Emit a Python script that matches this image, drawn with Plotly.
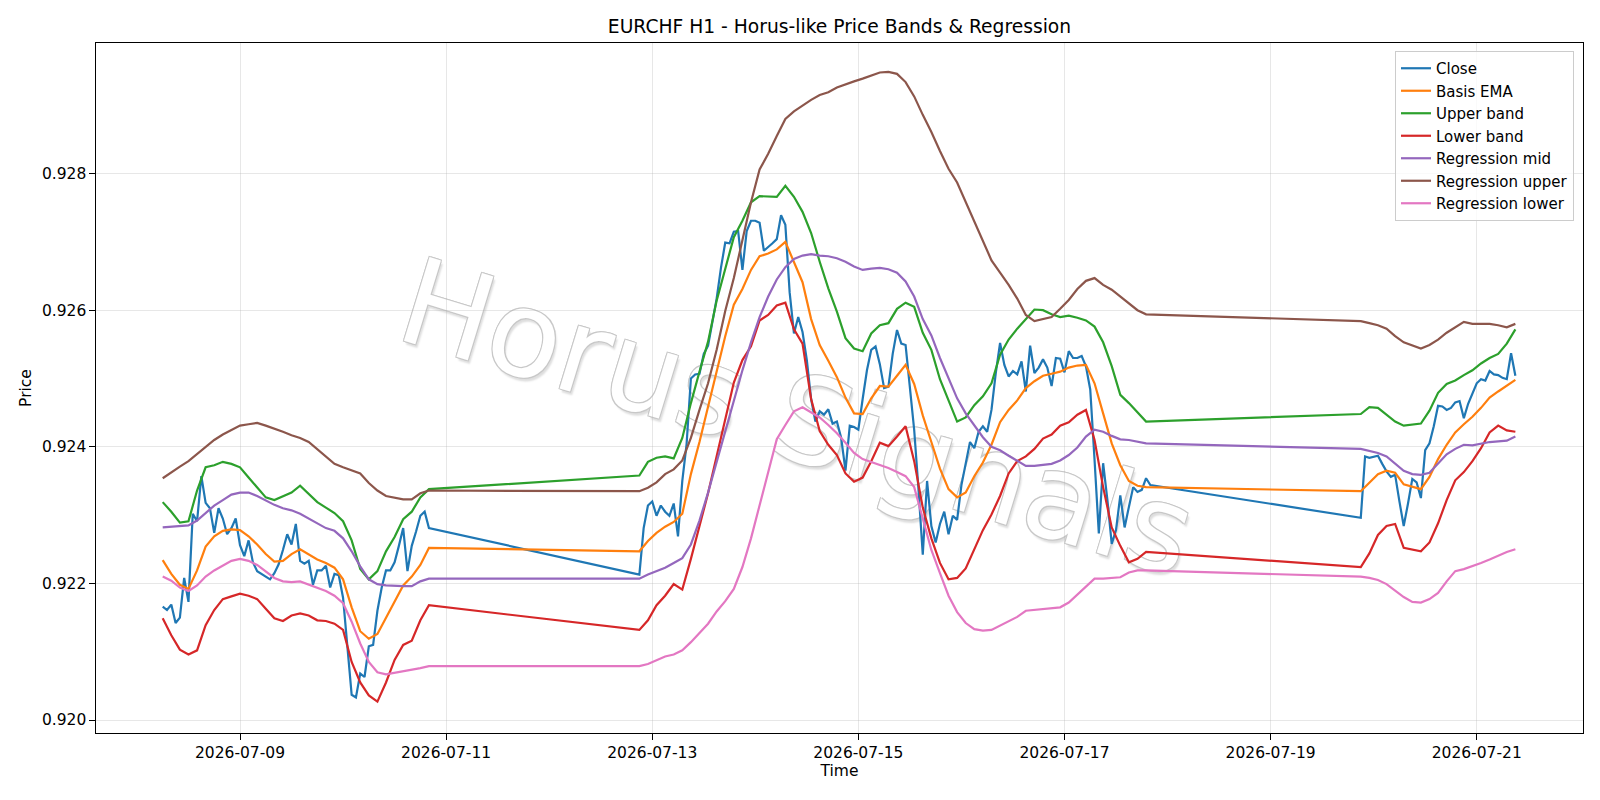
import pandas as pd
import plotly.graph_objects as go

# ---------------- data ----------------
SEG_STARTS = ["2026-07-08 06:00", "2026-07-12 21:00", "2026-07-19 21:00"]
CLOSE_COUNTS = [63, 120, 37]   # hourly points per trading block
BAND_COUNTS = [32, 60, 19]     # 2-hourly points per trading block

close = [
    0.92166, 0.92161, 0.92169, 0.92142, 0.92150, 0.92208, 0.92173, 0.92302, 0.92291, 0.92357,
    0.92318, 0.92310, 0.92274, 0.92310, 0.92295, 0.92272, 0.92281, 0.92295, 0.92256, 0.92240,
    0.92263, 0.92231, 0.92218, 0.92214, 0.92210, 0.92206, 0.92215, 0.92228, 0.92249, 0.92272,
    0.92257, 0.92287, 0.92233, 0.92229, 0.92233, 0.92198, 0.92219, 0.92219, 0.92226, 0.92194,
    0.92214, 0.92212, 0.92179, 0.92108, 0.92037, 0.92033, 0.92068, 0.92063, 0.92108, 0.92110,
    0.92160, 0.92194, 0.92219, 0.92219, 0.92231, 0.92255, 0.92281, 0.92218, 0.92255, 0.92276,
    0.92299, 0.92305, 0.92281,
    0.92213, 0.92281, 0.92314, 0.92320, 0.92299, 0.92314, 0.92305, 0.92299, 0.92317, 0.92269,
    0.92350, 0.92404, 0.92500, 0.92506, 0.92507, 0.92536, 0.92548, 0.92584, 0.92617, 0.92662,
    0.92699, 0.92698, 0.92715, 0.92716, 0.92659, 0.92716, 0.92731, 0.92731, 0.92728, 0.92687,
    0.92692, 0.92698, 0.92704, 0.92739, 0.92725, 0.92626, 0.92566, 0.92590, 0.92568, 0.92527,
    0.92470, 0.92437, 0.92452, 0.92447, 0.92455, 0.92434, 0.92437, 0.92413, 0.92365, 0.92431,
    0.92429, 0.92425, 0.92470, 0.92512, 0.92542, 0.92547, 0.92521, 0.92486, 0.92488, 0.92536,
    0.92571, 0.92551, 0.92549, 0.92482, 0.92425, 0.92338, 0.92242, 0.92350, 0.92284, 0.92260,
    0.92287, 0.92305, 0.92272, 0.92299, 0.92293, 0.92344, 0.92374, 0.92407, 0.92398, 0.92422,
    0.92430, 0.92422, 0.92454, 0.92508, 0.92552, 0.92520, 0.92503, 0.92511, 0.92506, 0.92525,
    0.92481, 0.92548, 0.92508, 0.92516, 0.92528, 0.92516, 0.92489, 0.92530, 0.92529, 0.92509,
    0.92540, 0.92530, 0.92530, 0.92533, 0.92518, 0.92484, 0.92381, 0.92273, 0.92376, 0.92322,
    0.92258, 0.92278, 0.92329, 0.92282, 0.92312, 0.92341, 0.92334, 0.92337, 0.92354, 0.92344,
    0.92296, 0.92386, 0.92384, 0.92385, 0.92387, 0.92375, 0.92364, 0.92356, 0.92359, 0.92320,
    0.92284, 0.92317, 0.92353, 0.92348, 0.92325, 0.92395, 0.92405, 0.92430, 0.92460, 0.92459,
    0.92454, 0.92457, 0.92465, 0.92467, 0.92442, 0.92463, 0.92477, 0.92493, 0.92499, 0.92497,
    0.92511, 0.92506, 0.92505, 0.92501, 0.92499, 0.92537, 0.92504,
]

basis_ema = [
    0.92234, 0.92214, 0.92198, 0.92192, 0.92219, 0.92254, 0.92269, 0.92277, 0.92279, 0.92278,
    0.92269, 0.92257, 0.92243, 0.92232, 0.92233, 0.92243, 0.92250, 0.92243, 0.92235, 0.92230,
    0.92223, 0.92206, 0.92165, 0.92130, 0.92119, 0.92126, 0.92150, 0.92172, 0.92197, 0.92210,
    0.92227, 0.92252,
    0.92247, 0.92262, 0.92274, 0.92283, 0.92290, 0.92302, 0.92360, 0.92407, 0.92458, 0.92512,
    0.92562, 0.92608, 0.92631, 0.92659, 0.92679, 0.92683, 0.92689, 0.92700, 0.92671, 0.92641,
    0.92587, 0.92549, 0.92526, 0.92502, 0.92472, 0.92449, 0.92448, 0.92471, 0.92489, 0.92488,
    0.92504, 0.92520, 0.92492, 0.92446, 0.92407, 0.92368, 0.92338, 0.92326, 0.92333, 0.92357,
    0.92377, 0.92403, 0.92436, 0.92454, 0.92468, 0.92486, 0.92496, 0.92504, 0.92507, 0.92510,
    0.92516, 0.92519, 0.92520, 0.92493, 0.92449, 0.92405, 0.92373, 0.92350, 0.92343, 0.92341,
    0.92335, 0.92348, 0.92360, 0.92365, 0.92362, 0.92345, 0.92341, 0.92338, 0.92356, 0.92382,
    0.92403, 0.92421, 0.92433, 0.92444, 0.92457, 0.92472, 0.92481, 0.92489, 0.92498,
]

upper_band = [
    0.92319, 0.92305, 0.92289, 0.92291, 0.92336, 0.92370, 0.92373, 0.92378, 0.92375, 0.92370,
    0.92355, 0.92341, 0.92326, 0.92322, 0.92328, 0.92333, 0.92343, 0.92331, 0.92319, 0.92311,
    0.92303, 0.92291, 0.92263, 0.92221, 0.92206, 0.92218, 0.92247, 0.92268, 0.92294, 0.92305,
    0.92326, 0.92338,
    0.92358, 0.92378, 0.92384, 0.92386, 0.92383, 0.92413, 0.92464, 0.92510, 0.92554, 0.92614,
    0.92660, 0.92707, 0.92731, 0.92758, 0.92767, 0.92767, 0.92766, 0.92782, 0.92766, 0.92744,
    0.92713, 0.92671, 0.92632, 0.92598, 0.92559, 0.92544, 0.92540, 0.92566, 0.92578, 0.92581,
    0.92602, 0.92611, 0.92605, 0.92567, 0.92542, 0.92499, 0.92467, 0.92437, 0.92443, 0.92461,
    0.92474, 0.92493, 0.92535, 0.92557, 0.92573, 0.92587, 0.92601, 0.92600, 0.92594, 0.92590,
    0.92592, 0.92589, 0.92585, 0.92576, 0.92553, 0.92518, 0.92476, 0.92464, 0.92450, 0.92437,
    0.92448, 0.92458, 0.92457, 0.92447, 0.92437, 0.92431, 0.92433, 0.92434, 0.92453, 0.92479,
    0.92492, 0.92497, 0.92505, 0.92512, 0.92522, 0.92530, 0.92536, 0.92551, 0.92572,
]

lower_band = [
    0.92149, 0.92124, 0.92103, 0.92096, 0.92102, 0.92139, 0.92161, 0.92177, 0.92181, 0.92185,
    0.92182, 0.92177, 0.92163, 0.92149, 0.92145, 0.92153, 0.92156, 0.92153, 0.92146, 0.92145,
    0.92141, 0.92132, 0.92085, 0.92055, 0.92036, 0.92027, 0.92055, 0.92088, 0.92110, 0.92116,
    0.92146, 0.92168,
    0.92132, 0.92146, 0.92168, 0.92182, 0.92199, 0.92191, 0.92236, 0.92282, 0.92332, 0.92386,
    0.92440, 0.92494, 0.92527, 0.92547, 0.92585, 0.92593, 0.92607, 0.92611, 0.92572, 0.92551,
    0.92470, 0.92423, 0.92403, 0.92388, 0.92361, 0.92349, 0.92355, 0.92379, 0.92406, 0.92401,
    0.92415, 0.92430, 0.92379, 0.92311, 0.92266, 0.92230, 0.92206, 0.92208, 0.92222, 0.92251,
    0.92278, 0.92301, 0.92328, 0.92361, 0.92379, 0.92386, 0.92397, 0.92412, 0.92418, 0.92431,
    0.92436, 0.92447, 0.92454, 0.92410, 0.92341, 0.92282, 0.92255, 0.92231, 0.92236, 0.92246,
    0.92224, 0.92244, 0.92271, 0.92284, 0.92287, 0.92252, 0.92249, 0.92247, 0.92260, 0.92288,
    0.92322, 0.92351, 0.92363, 0.92379, 0.92398, 0.92421, 0.92431, 0.92424, 0.92422,
]

reg_mid = [
    0.92282, 0.92283, 0.92284, 0.92285, 0.92292, 0.92303, 0.92314, 0.92322, 0.92330, 0.92333,
    0.92333, 0.92328, 0.92321, 0.92315, 0.92310, 0.92307, 0.92302, 0.92295, 0.92287, 0.92281,
    0.92277, 0.92266, 0.92247, 0.92225, 0.92206, 0.92199, 0.92197, 0.92196, 0.92196, 0.92196,
    0.92203, 0.92207,
    0.92207, 0.92213, 0.92218, 0.92223, 0.92230, 0.92237, 0.92257, 0.92292, 0.92333, 0.92378,
    0.92421, 0.92468, 0.92512, 0.92553, 0.92590, 0.92620, 0.92645, 0.92663, 0.92675, 0.92680,
    0.92682, 0.92680, 0.92679, 0.92676, 0.92671, 0.92664, 0.92659, 0.92661, 0.92662, 0.92660,
    0.92655, 0.92642, 0.92620, 0.92587, 0.92563, 0.92530, 0.92500, 0.92471, 0.92449, 0.92431,
    0.92414, 0.92400, 0.92395, 0.92387, 0.92380, 0.92372, 0.92372, 0.92373, 0.92375, 0.92380,
    0.92388, 0.92399, 0.92415, 0.92425, 0.92422, 0.92416, 0.92411, 0.92410, 0.92407, 0.92405,
    0.92397, 0.92394, 0.92391, 0.92386, 0.92376, 0.92365, 0.92360, 0.92359, 0.92362, 0.92376,
    0.92389, 0.92397, 0.92403, 0.92402, 0.92405, 0.92407, 0.92408, 0.92409, 0.92415,
]

reg_upper = [
    0.92354, 0.92363, 0.92371, 0.92379, 0.92389, 0.92399, 0.92410, 0.92418, 0.92425, 0.92431,
    0.92433, 0.92435, 0.92431, 0.92427, 0.92422, 0.92417, 0.92413, 0.92407, 0.92396, 0.92385,
    0.92375, 0.92370, 0.92366, 0.92361, 0.92347, 0.92336, 0.92328, 0.92325, 0.92323, 0.92323,
    0.92332, 0.92336,
    0.92335, 0.92340, 0.92348, 0.92360, 0.92367, 0.92380, 0.92413, 0.92454, 0.92493, 0.92542,
    0.92599, 0.92647, 0.92704, 0.92758, 0.92806, 0.92829, 0.92855, 0.92880, 0.92891, 0.92900,
    0.92908, 0.92915, 0.92919, 0.92926, 0.92931, 0.92935, 0.92939, 0.92943, 0.92948, 0.92949,
    0.92946, 0.92934, 0.92913, 0.92886, 0.92861, 0.92833, 0.92807, 0.92787, 0.92758, 0.92731,
    0.92701, 0.92673, 0.92655, 0.92637, 0.92617, 0.92593, 0.92584, 0.92587, 0.92590, 0.92602,
    0.92615, 0.92631, 0.92643, 0.92647, 0.92637, 0.92630, 0.92620, 0.92610, 0.92600, 0.92594,
    0.92584, 0.92581, 0.92578, 0.92573, 0.92562, 0.92553, 0.92548, 0.92544, 0.92549, 0.92557,
    0.92567, 0.92575, 0.92583, 0.92580, 0.92580, 0.92580, 0.92578, 0.92575, 0.92580,
]

reg_lower = [
    0.92210, 0.92204, 0.92194, 0.92189, 0.92197, 0.92210, 0.92219, 0.92226, 0.92233, 0.92236,
    0.92233, 0.92227, 0.92218, 0.92208, 0.92203, 0.92202, 0.92203, 0.92198, 0.92193, 0.92189,
    0.92182, 0.92171, 0.92144, 0.92112, 0.92085, 0.92070, 0.92067, 0.92069, 0.92071, 0.92074,
    0.92076, 0.92079,
    0.92079, 0.92082, 0.92087, 0.92093, 0.92096, 0.92102, 0.92114, 0.92127, 0.92141, 0.92159,
    0.92174, 0.92192, 0.92224, 0.92266, 0.92315, 0.92362, 0.92411, 0.92432, 0.92452, 0.92458,
    0.92451, 0.92443, 0.92432, 0.92420, 0.92406, 0.92391, 0.92382, 0.92378, 0.92373, 0.92369,
    0.92363, 0.92357, 0.92341, 0.92296, 0.92249, 0.92215, 0.92182, 0.92158, 0.92142, 0.92133,
    0.92131, 0.92132, 0.92138, 0.92144, 0.92151, 0.92160, 0.92161, 0.92162, 0.92163, 0.92165,
    0.92172, 0.92184, 0.92196, 0.92207, 0.92207, 0.92208, 0.92209, 0.92216, 0.92219, 0.92219,
    0.92210, 0.92208, 0.92205, 0.92199, 0.92190, 0.92180, 0.92173, 0.92172, 0.92177, 0.92186,
    0.92203, 0.92218, 0.92221, 0.92225, 0.92230, 0.92235, 0.92241, 0.92246, 0.92250,
]

X_TICKS = ["2026-07-09", "2026-07-11", "2026-07-13", "2026-07-15",
           "2026-07-17", "2026-07-19", "2026-07-21"]
Y_TICKS = [0.920, 0.922, 0.924, 0.926, 0.928]


def build_times(counts, step):
    parts = [pd.date_range(s, periods=n, freq=f"{step}h")
             for s, n in zip(SEG_STARTS, counts)]
    return list(parts[0].append(parts[1:]))


t_close = build_times(CLOSE_COUNTS, 1)
t_band = build_times(BAND_COUNTS, 2)

# ---------------- figure ----------------
FONT = "DejaVu Sans, Liberation Sans, sans-serif"
series = [
    ("Close", t_close, close, "#1f77b4"),
    ("Basis EMA", t_band, basis_ema, "#ff7f0e"),
    ("Upper band", t_band, upper_band, "#2ca02c"),
    ("Lower band", t_band, lower_band, "#d62728"),
    ("Regression mid", t_band, reg_mid, "#9467bd"),
    ("Regression upper", t_band, reg_upper, "#8c564b"),
    ("Regression lower", t_band, reg_lower, "#e377c2"),
]

fig = go.Figure()
for name, tx, vals, col in series:
    fig.add_trace(go.Scatter(x=tx, y=vals, mode="lines", name=name,
                             line=dict(color=col, width=2.2)))

L, R, T, B = 96, 17, 43, 67
W, H = 1600, 800
pw, ph = W - L - R, H - T - B
cx = (800 - L) / pw
cy = (H - B - 409) / ph

WM_SIZE = 120
shadow = ("-1px -1px 0 #c8c8c8, 1px -1px 0 #c8c8c8, "
          "-1px 1px 0 #c8c8c8, 1px 1px 0 #c8c8c8, 3px 3px 2px #dedede")
shape_kw = dict(type="rect", xref="paper", yref="paper",
                x0=cx - 0.01, x1=cx + 0.01, y0=cy - 0.01, y1=cy + 0.01,
                line=dict(width=0), fillcolor="rgba(0,0,0,0)", layer="below")
try:
    fig.add_shape(**shape_kw, label=dict(text="Horus Signals", textangle=17,
                                         textposition="middle center",
                                         font=dict(family=FONT, size=WM_SIZE,
                                                   color="white", shadow=shadow)))
except Exception:
    fig.add_shape(**shape_kw, label=dict(text="Horus Signals", textangle=17,
                                         textposition="middle center",
                                         font=dict(family=FONT, size=WM_SIZE,
                                                   color="#d8d8d8")))

axis_common = dict(
    showgrid=True, gridcolor="rgba(176,176,176,0.3)", gridwidth=1.1,
    showline=True, linecolor="black", linewidth=1.1, mirror=True,
    ticks="outside", ticklen=5.5, tickwidth=1.1, tickcolor="black",
    tickfont=dict(family=FONT, size=15.5, color="black"),
    zeroline=False,
)

fig.update_layout(
    width=W, height=H,
    margin=dict(l=L, r=R, t=T, b=B, autoexpand=False),
    paper_bgcolor="white", plot_bgcolor="white",
    font=dict(family=FONT, size=15.5, color="black"),
    title=dict(text="EURCHF H1 - Horus-like Price Bands & Regression",
               x=0.5, xref="paper", xanchor="center",
               y=1 - 26 / H, yref="container", yanchor="middle",
               font=dict(family=FONT, size=18.7, color="black")),
    xaxis=dict(**axis_common, type="date",
               range=["2026-07-07 14:28", "2026-07-22 00:45"],
               tickvals=X_TICKS, ticktext=X_TICKS,
               title=dict(text="Time", standoff=3,
                          font=dict(family=FONT, size=15.5, color="black"))),
    yaxis=dict(**axis_common,
               range=[0.91981, 0.929912],
               tickvals=Y_TICKS, ticktext=[f"{v:.3f}" for v in Y_TICKS],
               title=dict(text="Price", standoff=6,
                          font=dict(family=FONT, size=15.5, color="black"))),
    legend=dict(x=(1574 - L) / pw, xanchor="right",
                y=(H - B - 51) / ph, yanchor="top",
                bgcolor="rgba(255,255,255,0.8)", bordercolor="#cccccc",
                borderwidth=1, font=dict(family=FONT, size=15, color="black")),
    showlegend=True,
)

fig.write_html("out.html")
